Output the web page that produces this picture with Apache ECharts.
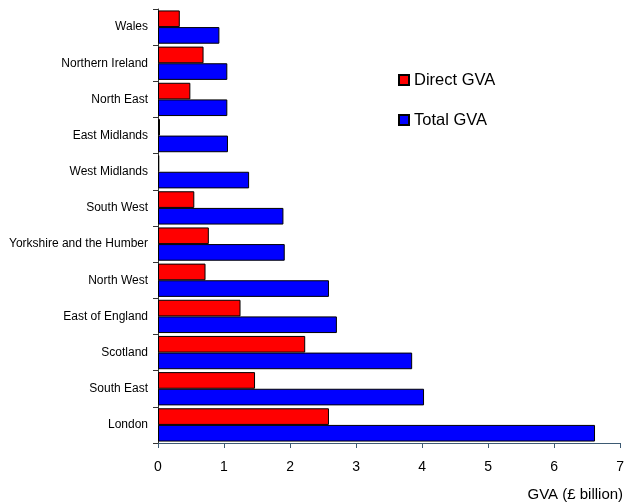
<!DOCTYPE html>
<html>
<head>
<meta charset="utf-8">
<script src="https://cdn.jsdelivr.net/npm/echarts@6/dist/echarts.min.js"></script>
<style>html,body{margin:0;padding:0;background:#fff}#c{width:627px;height:504px}</style>
</head>
<body>
<div id="c"></div>
<script>
const regions = ["London","South East","Scotland","East of England","North West","Yorkshire and the Humber","South West","West Midlands","East Midlands","North East","Northern Ireland","Wales"];
const directGVA = [2.59,1.47,2.23,1.25,0.72,0.77,0.55,0.02,0.03,0.49,0.69,0.33];
const totalGVA  = [6.62,4.03,3.85,2.71,2.59,1.92,1.90,1.38,1.06,1.05,1.05,0.93];
const xTicks = [0,1,2,3,4,5,6,7];

const chart = echarts.init(document.getElementById('c'));
const font = 'Liberation Sans, Arial, sans-serif';
chart.setOption({
  animation:false,
  textStyle:{fontFamily:font},
  legend:{
    orient:'vertical', left:393, top:66, itemWidth:10, itemHeight:10, itemGap:22,
    icon:'rect',
    textStyle:{fontSize:16.5,lineHeight:18,color:'#000',fontFamily:font},
    data:['Direct GVA','Total GVA']
  },
  grid:{left:158,right:3,top:9,bottom:61,containLabel:false},
  xAxis:{
    type:'value', min:xTicks[0], max:xTicks[xTicks.length-1], interval:1,
    name:'GVA (£ billion)', nameLocation:'end', nameGap:0,
    nameTextStyle:{fontSize:15,color:'#000',align:'right',verticalAlign:'top',padding:[44,-3,0,0]},
    axisLine:{show:true,lineStyle:{color:'#3d5a73',width:1}},
    axisTick:{show:true,length:5,lineStyle:{color:'#3d5a73'}},
    axisLabel:{fontSize:14,color:'#000',margin:17},
    splitLine:{show:false}
  },
  yAxis:{
    type:'category', data:regions,
    axisLine:{show:true,lineStyle:{color:'#333'}},
    axisTick:{show:true,length:5,lineStyle:{color:'#333'}},
    axisLabel:{fontSize:12,color:'#000',margin:10}
  },
  series:[
    {name:'Direct GVA',type:'bar',data:directGVA,barGap:'0%',barCategoryGap:'8%',
     itemStyle:{color:'#ff0000',borderColor:'#000',borderWidth:1}},
    {name:'Total GVA',type:'bar',data:totalGVA,barGap:'0%',barCategoryGap:'8%',
     itemStyle:{color:'#0000ff',borderColor:'#000',borderWidth:1}}
  ]
});
</script>
</body>
</html>
